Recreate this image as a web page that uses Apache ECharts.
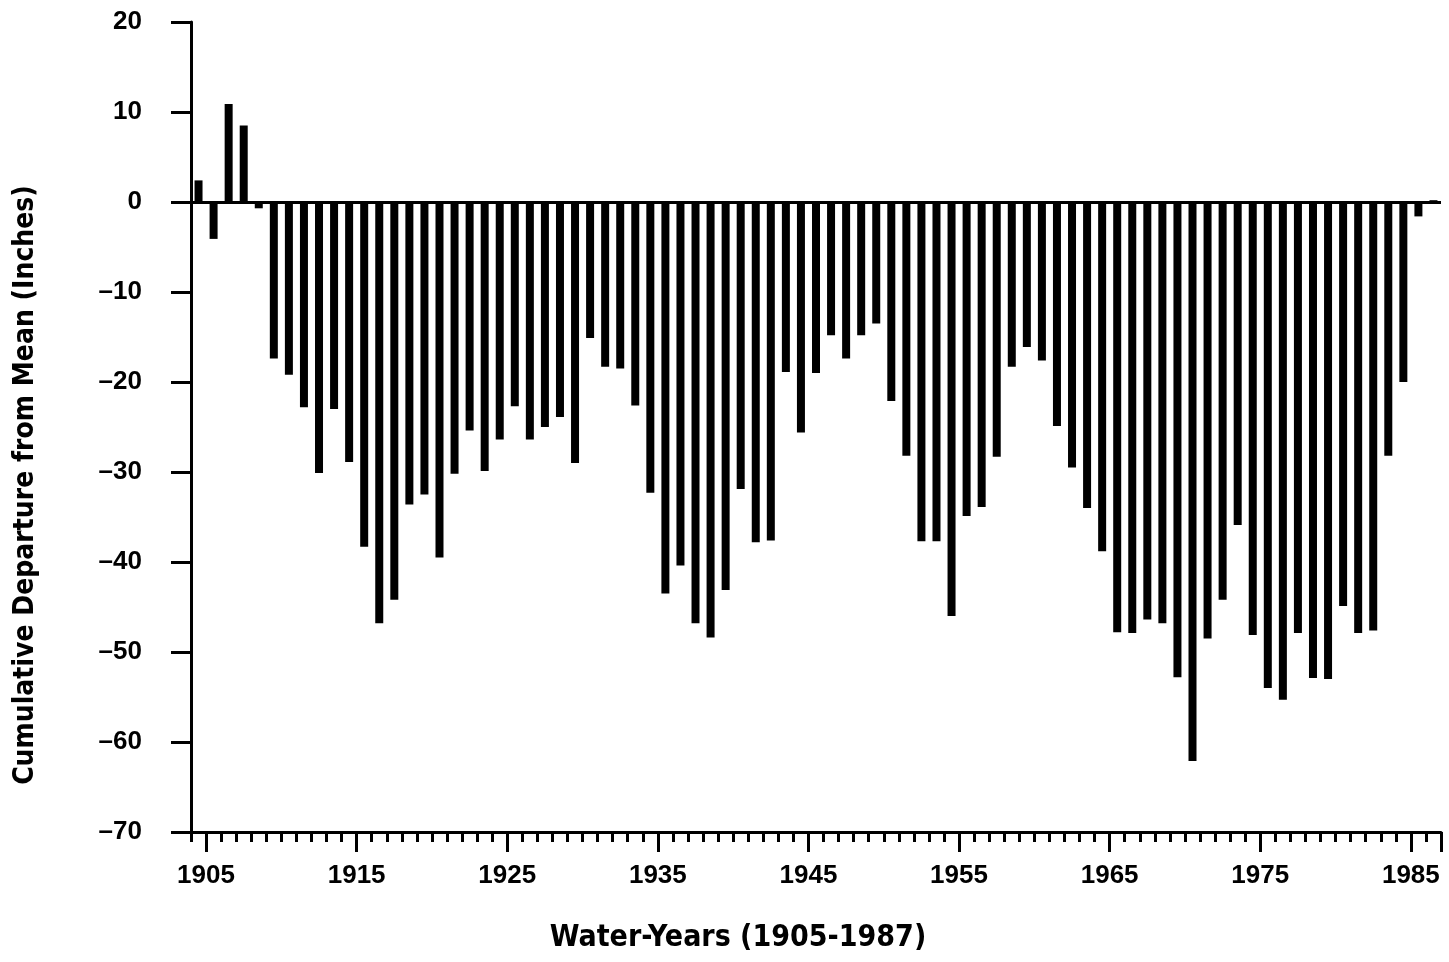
<!DOCTYPE html>
<html>
<head>
<meta charset="utf-8">
<script src="https://cdn.jsdelivr.net/npm/echarts@6/dist/echarts.min.js"></script>
<style>
html,body{margin:0;padding:0;background:#fff;}
#chart{width:1449px;height:962px;}
</style>
</head>
<body>
<div id="chart"></div>
<script>
const years = ['1905','1906','1907','1908','1909','1910','1911','1912','1913','1914',
  '1915','1916','1917','1918','1919','1920','1921','1922','1923','1924',
  '1925','1926','1927','1928','1929','1930','1931','1932','1933','1934',
  '1935','1936','1937','1938','1939','1940','1941','1942','1943','1944',
  '1945','1946','1947','1948','1949','1950','1951','1952','1953','1954',
  '1955','1956','1957','1958','1959','1960','1961','1962','1963','1964',
  '1965','1966','1967','1968','1969','1970','1971','1972','1973','1974',
  '1975','1976','1977','1978','1979','1980','1981','1982','1983','1984',
  '1985','1986','1987'];
const departure = [2.4,-4.1,10.9,8.5,-0.7,-17.4,-19.2,-22.8,-30.1,-23.0,
  -28.9,-38.3,-46.8,-44.2,-33.6,-32.5,-39.5,-30.2,-25.4,-29.9,
  -26.4,-22.7,-26.4,-25.0,-23.9,-29.0,-15.1,-18.3,-18.5,-22.6,
  -32.3,-43.5,-40.4,-46.8,-48.4,-43.1,-31.9,-37.8,-37.6,-18.9,
  -25.6,-19.0,-14.8,-17.4,-14.8,-13.5,-22.1,-28.2,-37.7,-37.7,
  -46.0,-34.9,-33.9,-28.3,-18.3,-16.1,-17.6,-24.9,-29.5,-34.0,
  -38.8,-47.8,-47.9,-46.4,-46.8,-52.8,-62.1,-48.5,-44.2,-35.9,
  -48.1,-54.0,-55.3,-47.9,-52.9,-53.0,-44.9,-47.9,-47.6,-28.2,
  -20.0,-1.6,0.2];
const yTicks = [-70,-60,-50,-40,-30,-20,-10,0,10,20];
const yTitle = 'Cumulative Departure from Mean (Inches)';
const xTitle = 'Water-Years (1905-1987)';

const TICKFONT = '"Liberation Sans","Arial",sans-serif';
const TITLEFONT = '"DejaVu Sans Condensed","Liberation Sans Narrow",sans-serif';
const chart = echarts.init(document.getElementById('chart'));
chart.setOption({
  animation: false,
  backgroundColor: '#fff',
  grid: {left: 191, right: 8, top: 22, bottom: 130, containLabel: false},
  xAxis: [{
    type: 'category',
    data: years,
    boundaryGap: true,
    axisLine: {onZero: false, lineStyle: {color: '#000', width: 3}},
    axisTick: {show: true, interval: 0, length: 10, lineStyle: {color: '#000', width: 3}},
    axisLabel: {
      interval: function (i) { return i % 10 === 0; },
      color: '#000', fontFamily: TICKFONT, fontWeight: 'bold', fontSize: 26, margin: 31,
      padding: [0, 0, 0, 15]
    },
    splitLine: {show: false}
  }, {
    type: 'category',
    data: years,
    boundaryGap: true,
    position: 'bottom',
    axisLine: {show: false, onZero: false},
    axisTick: {show: true, interval: function (i) { return (i - 1) % 10 === 0; }, length: 20, lineStyle: {color: '#000', width: 3}},
    axisLabel: {show: false},
    splitLine: {show: false}
  }],
  yAxis: {
    type: 'value',
    min: yTicks[0], max: yTicks[yTicks.length - 1], interval: 10,
    axisLine: {show: true, lineStyle: {color: '#000', width: 3}},
    axisTick: {show: true, length: 20, lineStyle: {color: '#000', width: 3}},
    axisLabel: {
      color: '#000', fontFamily: TICKFONT, fontWeight: 'bold', fontSize: 26, margin: 49,
      formatter: function (v) { return String(v).replace('-', '\u2013'); }
    },
    splitLine: {show: false}
  },
  series: [{
    type: 'bar',
    data: departure,
    barWidth: 8,
    itemStyle: {color: '#000'},
    markLine: {
      silent: true, symbol: 'none', label: {show: false},
      lineStyle: {color: '#000', width: 3, type: 'solid'},
      data: [{yAxis: 0}]
    }
  }],
  graphic: [{
    type: 'text', x: 26, y: 485, rotation: Math.PI / 2,
    style: {text: yTitle, fill: '#000', font: 'bold 28px ' + TITLEFONT, align: 'center', verticalAlign: 'middle'}
  }, {
    type: 'text', x: 738, y: 938,
    style: {text: xTitle, fill: '#000', font: 'bold 30px ' + TITLEFONT, align: 'center', verticalAlign: 'middle'}
  }]
});
</script>
</body>
</html>
